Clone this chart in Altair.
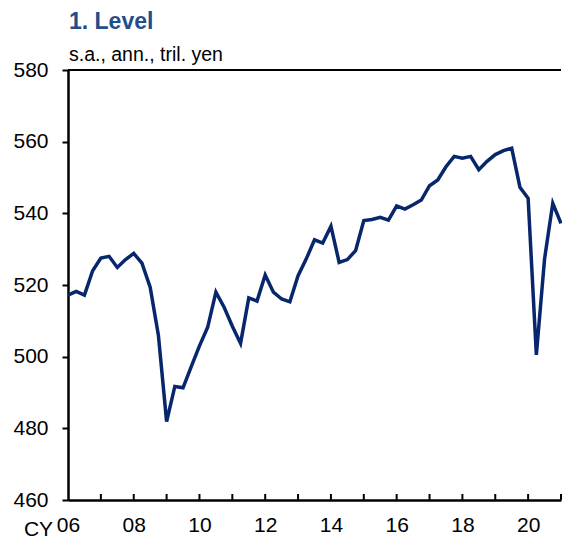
import altair as alt
import pandas as pd

# Real GDP level, quarterly, 2006 Q1 - 2021 Q1 (s.a., ann., tril. yen)
start_year = 2006
values = [
    517.2, 518.2, 517.2, 524.0, 527.5, 528.0, 524.9, 527.1,   # 2006-2007
    528.8, 526.1, 519.4, 506.0, 481.9, 491.7, 491.3, 497.2,   # 2008-2009
    503.0, 508.2, 518.0, 513.8, 508.5, 503.7, 516.4, 515.5,   # 2010-2011
    522.8, 518.0, 516.1, 515.3, 522.6, 527.3, 532.6, 531.7,   # 2012-2013
    536.4, 526.3, 527.1, 529.6, 538.0, 538.3, 538.9, 538.1,   # 2014-2015
    542.1, 541.2, 542.4, 543.7, 547.7, 549.3, 553.0, 555.9,   # 2016-2017
    555.4, 555.9, 552.2, 554.5, 556.4, 557.5, 558.2, 547.3,   # 2018-2019
    544.2, 500.5, 527.3, 542.8, 537.2,                        # 2020-2021Q1
]
y_ticks = [460, 480, 500, 520, 540, 560, 580]
x_label_years = [2006, 2008, 2010, 2012, 2014, 2016, 2018, 2020]
x_tick_years = list(range(2007, 2022))

FONT = "Liberation Sans"
LINE_COLOR = "#08266B"
TITLE_COLOR = "#1F4E8C"
PLOT_W = 493
PLOT_H = 430

df = pd.DataFrame({"t": [start_year + i / 4 for i in range(len(values))], "v": values})
ticks_df = pd.DataFrame({"t": x_tick_years})
frame_df = pd.DataFrame({"t0": [2006], "t1": [2021], "top": [580]})

x_scale = alt.Scale(domain=[2006, 2021], nice=False, zero=False)
y_scale = alt.Scale(domain=[460, 580], nice=False, zero=False)

line = alt.Chart(df).mark_line(color=LINE_COLOR, strokeWidth=3.5, strokeJoin="miter").encode(
    x=alt.X("t:Q", scale=x_scale,
            axis=alt.Axis(values=x_label_years, labelExpr="substring(toString(datum.value), 2, 4)",
                          ticks=False, grid=False, domainColor="black", domainWidth=2.5,
                          labelFont=FONT, labelFontSize=21, labelColor="black",
                          labelPadding=14, labelAlign="center",
                          title="CY", titleFont=FONT, titleFontSize=21, titleFontWeight="normal",
                          titleColor="black", titleX=-30, titleY=35, titleBaseline="alphabetic",
                          titleAlign="center")),
    y=alt.Y("v:Q", scale=y_scale,
            axis=alt.Axis(values=y_ticks, grid=False, domainColor="black", domainWidth=2.5,
                          tickColor="black", tickSize=6, tickWidth=2,
                          labelFont=FONT, labelFontSize=21, labelColor="black",
                          labelPadding=14, title=None)),
)

inner_ticks = alt.Chart(ticks_df).mark_rule(color="black", strokeWidth=2).encode(
    x=alt.X("t:Q", scale=x_scale),
    y=alt.value(PLOT_H),
    y2=alt.value(PLOT_H - 6),
)

top_line = alt.Chart(frame_df).mark_rule(color="black", strokeWidth=2).encode(
    x=alt.X("t0:Q", scale=x_scale),
    x2="t1:Q",
    y=alt.Y("top:Q", scale=y_scale),
)

chart = alt.layer(line, inner_ticks, top_line).properties(
    width=PLOT_W,
    height=PLOT_H,
    autosize=alt.AutoSizeParams(type="none"),
    padding={"left": 60, "top": 62, "right": 1, "bottom": 40},
    title=alt.TitleParams(
        text="1. Level",
        subtitle="s.a., ann., tril. yen",
        anchor="start",
        frame="group",
        font=FONT,
        fontSize=23,
        fontWeight="bold",
        color=TITLE_COLOR,
        subtitleFont=FONT,
        subtitleFontSize=19.5,
        subtitleColor="black",
        subtitlePadding=12,
        offset=-5,
        dx=1,
    ),
).configure_view(stroke=None)

chart.save("out.html", embed_options={"renderer": "svg", "actions": False})
